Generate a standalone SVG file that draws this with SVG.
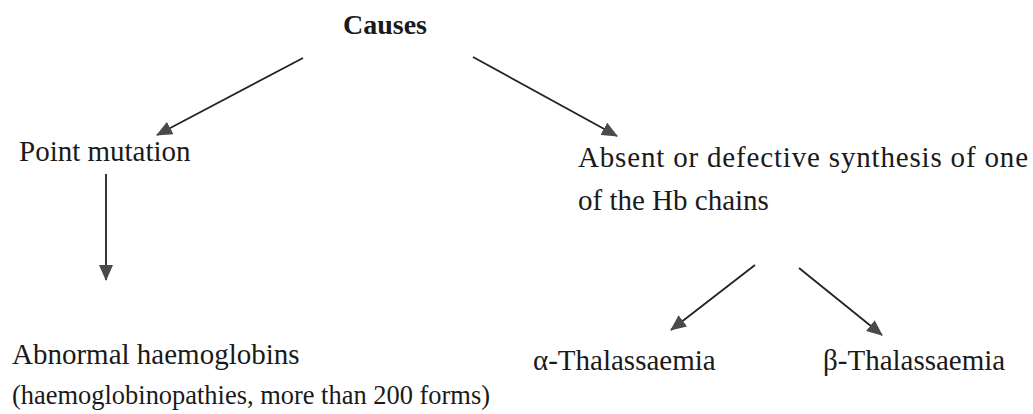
<svg xmlns="http://www.w3.org/2000/svg" width="1033" height="414" viewBox="0 0 1033 414">
<style>
.t{font-family:"Liberation Serif","Times New Roman",serif;font-size:29px;fill:#1a1a1a}
.b{font-weight:bold;font-size:28px}
.s{font-size:26.5px}
.c{stroke:#222;stroke-width:1.8;fill:none}
</style>
<defs>
<marker id="ah" viewBox="0 0 16 14" refX="15" refY="7" markerWidth="16" markerHeight="14" markerUnits="userSpaceOnUse" orient="auto">
<path d="M0,0 L16,7 L0,14 z" fill="#4a4a4a"/>
</marker>
</defs>
<rect width="1033" height="414" fill="#fff"/>
<g id="connectors">
<line class="c" x1="303" y1="58" x2="157" y2="135" marker-end="url(#ah)"/>
<line class="c" x1="473" y1="57" x2="617" y2="136" marker-end="url(#ah)"/>
<line class="c" x1="106" y1="174" x2="106" y2="280" marker-end="url(#ah)"/>
<line class="c" x1="755" y1="265" x2="671" y2="330" marker-end="url(#ah)"/>
<line class="c" x1="799" y1="268" x2="882" y2="335" marker-end="url(#ah)"/>
</g>
<g id="causes"><text class="t b" x="385" y="34" text-anchor="middle">Causes</text></g>
<g id="point-mutation"><text class="t" x="19" y="161">Point mutation</text></g>
<g id="absent-synthesis">
<text class="t" x="578" y="167" textLength="450" lengthAdjust="spacing">Absent or defective synthesis of one</text>
<text class="t" x="578" y="210">of the Hb chains</text>
</g>
<g id="abnormal-hb">
<text class="t" x="12" y="364">Abnormal haemoglobins</text>
<text class="t s" x="12" y="404" textLength="478" lengthAdjust="spacingAndGlyphs">(haemoglobinopathies, more than 200 forms)</text>
</g>
<g id="alpha-thal"><text class="t" x="533" y="370">α-Thalassaemia</text></g>
<g id="beta-thal"><text class="t" x="823" y="370">β-Thalassaemia</text></g>
</svg>
